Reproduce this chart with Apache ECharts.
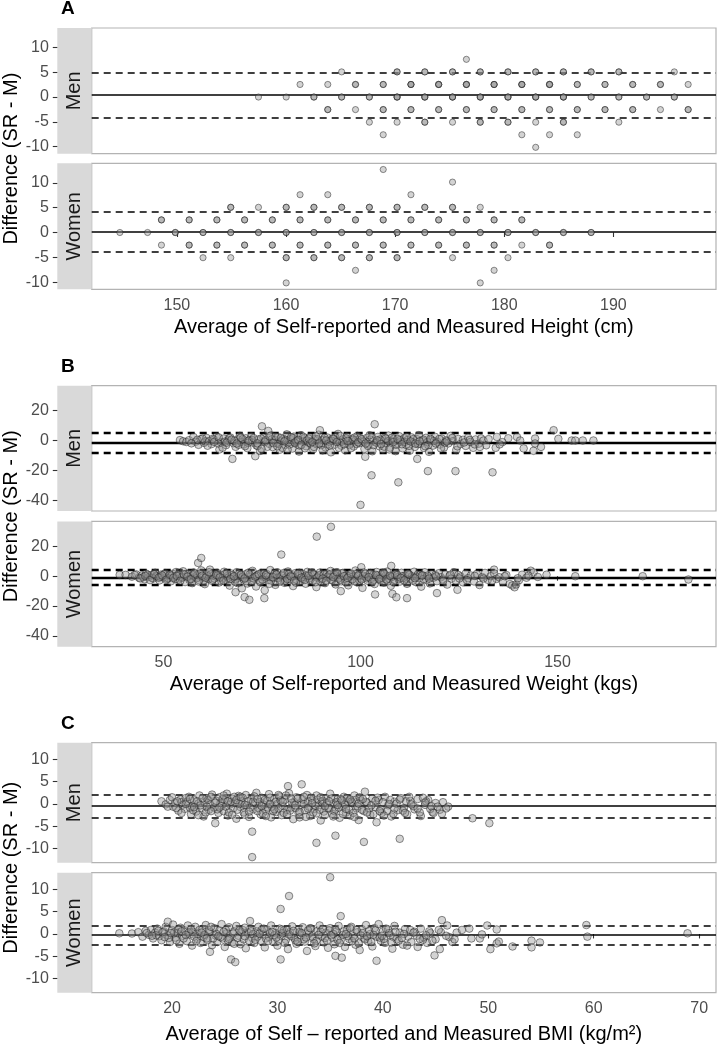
<!DOCTYPE html>
<html>
<head>
<meta charset="utf-8">
<script src="https://cdn.jsdelivr.net/npm/echarts@6/dist/echarts.min.js"></script>
<style>
html,body{margin:0;padding:0;background:#fff;}
#chart{width:717px;height:1049px;}
</style>
</head>
<body>
<div id="chart"></div>
<script>
// ---------------- DATA ----------------
// Panel A: height (cm). [average, difference, overlapping count]
const heightMenPts = [
 [176.53,7.62,1],
 [165.10,5.08,1],[170.18,5.08,2],[172.72,5.08,2],[175.26,5.08,2],[177.80,5.08,2],[180.34,5.08,2],[182.88,5.08,2],[185.42,5.08,2],[187.96,5.08,2],[190.50,5.08,2],[195.58,5.08,1],
 [161.29,2.54,1],[163.83,2.54,1],[166.37,2.54,2],[168.91,2.54,2],[171.45,2.54,3],[173.99,2.54,3],[176.53,2.54,3],[179.07,2.54,3],[181.61,2.54,3],[184.15,2.54,3],[186.69,2.54,2],[189.23,2.54,2],[191.77,2.54,2],[194.31,2.54,2],[196.85,2.54,1],
 [157.48,0,1],[160.02,0,1],[162.56,0,2],[165.10,0,2],[167.64,0,2],[170.18,0,3],[172.72,0,3],[175.26,0,3],[177.80,0,3],[180.34,0,3],[182.88,0,3],[185.42,0,3],[187.96,0,2],[190.50,0,2],[193.04,0,2],[195.58,0,2],
 [163.83,-2.54,2],[166.37,-2.54,1],[168.91,-2.54,2],[171.45,-2.54,2],[173.99,-2.54,2],[176.53,-2.54,2],[179.07,-2.54,2],[181.61,-2.54,2],[184.15,-2.54,2],[186.69,-2.54,2],[189.23,-2.54,2],[191.77,-2.54,2],[194.31,-2.54,1],[196.85,-2.54,2],
 [167.64,-5.08,1],[170.18,-5.08,1],[172.72,-5.08,2],[175.26,-5.08,1],[177.80,-5.08,2],[180.34,-5.08,2],[182.88,-5.08,1],[185.42,-5.08,2],[190.50,-5.08,1],
 [168.91,-7.62,1],[181.61,-7.62,1],[184.15,-7.62,1],[186.69,-7.62,1],
 [182.88,-10.16,1]
];
const heightWomenPts = [
 [168.91,12.70,1],
 [175.26,10.16,1],
 [161.29,7.62,1],[163.83,7.62,1],[171.45,7.62,1],
 [154.94,5.08,2],[157.48,5.08,1],[160.02,5.08,2],[162.56,5.08,2],[165.10,5.08,2],[167.64,5.08,2],[170.18,5.08,2],[172.72,5.08,2],[175.26,5.08,2],[177.80,5.08,1],
 [148.59,2.54,2],[151.13,2.54,2],[153.67,2.54,2],[156.21,2.54,2],[158.75,2.54,2],[161.29,2.54,2],[163.83,2.54,2],[166.37,2.54,2],[168.91,2.54,2],[171.45,2.54,2],[173.99,2.54,2],[176.53,2.54,2],[179.07,2.54,2],[181.61,2.54,2],
 [144.78,0,1],[147.32,0,1],[149.86,0,2],[152.40,0,2],[154.94,0,2],[157.48,0,2],[160.02,0,2],[162.56,0,2],[165.10,0,2],[167.64,0,2],[170.18,0,2],[172.72,0,2],[175.26,0,2],[177.80,0,2],[180.34,0,2],[182.88,0,2],[185.42,0,2],[187.96,0,2],
 [148.59,-2.54,1],[151.13,-2.54,2],[153.67,-2.54,2],[156.21,-2.54,2],[158.75,-2.54,2],[161.29,-2.54,2],[163.83,-2.54,2],[166.37,-2.54,2],[168.91,-2.54,2],[171.45,-2.54,2],[173.99,-2.54,2],[176.53,-2.54,2],[179.07,-2.54,2],[181.61,-2.54,1],[184.15,-2.54,2],
 [152.40,-5.08,1],[154.94,-5.08,1],[160.02,-5.08,2],[162.56,-5.08,2],[165.10,-5.08,2],[167.64,-5.08,2],[170.18,-5.08,2],[175.26,-5.08,1],[180.34,-5.08,1],
 [166.37,-7.62,1],[179.07,-7.62,1],
 [160.02,-10.16,1],[177.80,-10.16,1]
];

// Panel B: weight (kg). [average, difference]
const weightMenPts = [
 [54.2,0.3],[55.0,-0.5],[55.8,-1.0],[56.5,0.2],[57.6,2.4],[58.2,-0.8],[58.9,-2.9],[59.5,0.9],[60.3,-1.6],[60.9,1.8],[61.6,-0.3],[62.2,-2.4],[62.8,0.6],[63.5,2.6],[64.2,-6.0],[64.6,-1.2],[65.3,1.3],[65.9,-3.1],[66.4,0.1],[67.0,2.0],[67.5,-12.3],[67.8,-1.8],[68.3,-4.2],[68.9,0.8],[69.4,3.1],[69.8,-0.9],[70.4,-2.6],[70.9,1.5],[71.3,-5.1],[71.8,0.2],[72.3,2.8],[72.7,-1.4],[73.3,-10.5],[73.6,-3.3],[74.1,0.7],[74.5,-7.0],[75.0,9.5],[75.4,1.9],[75.9,-0.6],[76.6,6.4],[76.8,-2.2],[77.3,3.4],[77.7,-4.4],[78.2,0.4],[78.6,-1.5],[79.1,2.3],[79.5,-6.2],[80.0,-0.2],[80.4,1.1],[80.9,-3.0],[81.3,4.1],[81.8,-1.1],[82.2,0.9],[82.7,-5.4],[83.1,2.6],[83.5,-2.0],[84.0,0.1],[84.4,-7.4],[84.9,3.6],[85.3,-0.7],[85.8,1.6],[86.2,-3.8],[86.7,-1.3],[87.1,2.2],[87.6,-0.4],[88.0,-5.9],[88.5,1.0],[88.9,-2.5],[89.4,3.9],[89.7,6.9],[90.2,-1.7],[90.7,0.5],[91.1,-4.6],[91.6,2.0],[92.0,-0.9],[92.5,-7.9],[92.9,1.4],[93.4,-2.8],[93.8,0.2],[94.3,4.4],[94.7,-1.2],[95.2,-3.5],[95.6,0.8],[96.1,-6.5],[96.5,2.7],[97.0,-0.5],[97.4,-2.1],[97.9,1.2],[98.3,-4.0],[98.8,0.3],[99.2,3.0],[99.7,-1.8],[100.0,-43.1],[100.5,-0.2],[101.0,-5.6],[101.2,-10.9],[101.6,1.7],[102.1,-2.6],[102.5,0.6],[102.8,-23.3],[103.0,-7.2],[103.6,10.9],[103.9,-1.0],[104.4,2.4],[104.8,-3.9],[105.3,0.0],[105.7,-6.1],[106.2,1.9],[106.6,-1.6],[107.1,3.3],[107.5,-4.8],[108.0,-0.3],[108.4,1.0],[108.9,-7.1],[109.3,-2.0],[109.6,-28.0],[109.8,2.9],[110.2,-0.8],[110.7,-5.2],[111.1,1.5],[111.6,-3.0],[112.0,0.4],[112.5,-6.8],[112.9,2.1],[113.4,-1.4],[113.8,-4.3],[114.3,0.9],[114.4,-12.3],[114.8,3.6],[115.2,-2.2],[115.7,-0.1],[116.1,-5.0],[116.6,1.8],[117.0,-1.1],[117.1,-20.5],[117.4,-7.6],[117.9,0.6],[118.4,-3.4],[118.9,2.5],[119.5,-0.9],[120.1,-2.7],[120.6,1.3],[121.2,-4.7],[121.8,0.2],[122.3,-1.9],[122.9,3.1],[123.5,-0.4],[124.1,-20.5],[124.3,-6.4],[124.8,1.0],[125.4,-2.3],[126.0,0.5],[126.7,-3.6],[127.3,1.9],[127.9,-1.0],[128.6,-4.9],[129.2,0.7],[130.0,-2.1],[130.6,1.4],[131.2,0.0],[131.9,-3.2],[133.5,-21.3],[134.3,-4.9],[134.6,2.4],[136.0,-1.1],[139.7,2.4],[140.5,0.0],[141.4,-5.3],[143.9,-6.9],[144.3,1.3],[144.3,-2.0],[145.8,-4.3],[149.0,6.9],[150.2,1.1],[153.6,0.0],[154.5,0.0],[156.4,0.0],[159.1,0.0],
 [58.6,0.5],[60.6,-0.6],[62.5,1.1],[63.9,-2.0],[65.6,-0.8],[66.7,1.6],[68.0,-0.2],[69.1,-2.9],[70.1,0.9],[71.5,-1.5],[72.5,0.3],[73.9,-3.7],[74.8,1.3],[75.7,-1.0],[76.4,-4.2],[77.5,0.8],[78.4,2.6],[79.3,-2.4],[80.2,-4.9],[81.0,0.4],[82.0,-2.7],[82.9,1.7],[83.7,-0.5],[84.6,-3.4],[85.5,2.5],[86.4,0.0],[87.3,-1.9],[88.2,-4.3],[89.1,0.8],[90.0,-3.1],[90.9,1.8],[91.8,-2.4],[92.7,-0.2],[93.6,2.2],[94.5,-4.9],[95.4,-0.7],[96.3,1.4],[97.2,-3.0],[98.1,0.5],[99.0,-2.3],[99.9,1.6],[100.8,-0.8],[101.9,-3.6],[102.9,2.0],[104.0,-1.5],[105.0,0.7],[106.0,-4.1],[107.0,-0.4],[108.0,1.9],[109.0,-2.8],[110.0,0.3],[111.2,-1.0],[112.3,-3.6],[113.4,0.9],[114.6,-2.4],[115.9,0.6],[117.2,-3.1],[118.6,-0.3],[120.0,1.0],[121.4,-1.4],
 [57.1,-1.9],[59.9,1.3],[61.2,-3.5],[62.9,-0.9],[64.0,2.1],[65.0,-4.8],[66.0,-1.5],[67.3,0.5],[68.6,-2.0],[69.6,1.9],[70.7,-3.8],[71.6,-0.1],[72.9,1.6],[73.8,-1.9],[74.9,-5.6],[75.9,0.2],[76.9,2.9],[77.9,-1.8],[78.9,-3.9],[79.8,1.7],[80.7,-0.6],[81.5,-6.1],[82.4,2.2],[83.3,-1.4],[84.2,0.5],[85.0,-2.9],[85.9,-5.2],[86.9,1.3],[87.8,-0.9],[88.7,2.8],[89.5,-2.0],[90.4,-6.6],[91.3,0.0],[92.2,-3.4],[93.1,1.1],[94.0,-1.0],[94.9,3.0],[95.8,-2.5],[96.7,-0.2],[97.6,-5.1],[98.5,2.0],[99.4,-1.2],[100.3,0.9],[101.3,-2.0],[102.3,3.5],[103.3,-3.1],[104.2,0.1],[105.2,-2.4],[106.4,1.3],[107.3,-6.0],[108.3,-1.1],[109.4,1.0],[110.5,-2.5],[111.7,2.5],[112.7,-0.6],[113.9,-2.1],[115.0,-0.5],[116.4,-3.8],[117.7,1.2],[119.1,-2.0],[120.4,-5.3],[121.9,-0.6],[123.3,1.7],[124.6,-3.9],[126.3,-1.3],[127.7,0.3],[129.0,-2.6],[130.3,-4.3],[132.5,0.9],[135.3,-2.6],[137.5,1.5]
];
const weightWomenPts = [
 [38.9,0.9],[40.4,0.9],[42.0,-0.3],[43.1,1.2],[43.8,-1.0],[44.5,0.4],[45.2,-2.1],[45.6,1.7],[46.3,-0.5],[46.9,0.8],[47.4,-1.6],[47.9,2.3],[48.5,-0.2],[49.0,-2.8],[49.4,1.1],[50.0,-0.9],[50.5,2.0],[51.0,-1.9],[51.4,0.3],[51.9,-3.4],[52.3,1.6],[52.8,-0.6],[53.2,2.8],[53.7,-2.3],[54.1,0.7],[54.6,-1.2],[55.0,3.3],[55.5,-3.9],[55.9,0.1],[56.4,1.9],[56.8,-1.5],[57.3,-4.6],[57.7,2.5],[58.2,-0.4],[58.6,1.0],[58.8,8.9],[59.1,-2.7],[59.6,12.2],[59.6,3.9],[60.0,-0.8],[60.5,-5.3],[60.9,1.4],[61.4,-1.8],[61.8,4.4],[62.3,-3.1],[62.7,0.5],[63.2,-0.1],[63.6,2.2],[64.1,-4.2],[64.5,0.9],[65.0,-1.4],[65.4,3.0],[65.9,-2.5],[66.3,0.2],[66.8,-6.3],[67.2,1.8],[67.7,-0.7],[68.1,-3.6],[68.3,-10.7],[68.6,2.7],[69.0,-1.1],[69.5,0.6],[69.9,-8.1],[70.4,-2.2],[70.6,-14.0],[70.8,1.3],[71.3,-4.9],[71.8,-15.8],[72.1,0.0],[72.6,3.6],[73.0,-1.7],[73.5,-6.9],[73.9,0.8],[74.4,-3.0],[74.8,2.1],[75.3,-0.5],[75.6,-14.7],[75.7,-9.4],[76.2,1.5],[76.6,-2.6],[77.1,4.1],[77.5,-1.0],[78.0,0.4],[78.4,-5.8],[78.9,2.6],[79.3,-0.3],[79.9,14.5],[79.8,-2.9],[80.2,1.0],[80.7,-4.4],[81.1,-0.9],[81.6,3.2],[82.0,-1.8],[82.5,0.7],[82.9,-6.6],[83.4,2.0],[83.8,-2.4],[84.3,0.1],[84.7,-3.7],[85.2,1.7],[85.6,-0.6],[86.1,-5.0],[86.5,2.9],[87.0,-1.4],[87.4,0.5],[87.9,-3.2],[88.3,1.2],[88.9,26.5],[88.8,-7.3],[89.2,-0.2],[89.7,2.4],[90.1,-2.0],[90.6,0.9],[91.0,-4.6],[91.5,1.9],[91.9,-1.1],[92.4,3.5],[92.5,33.1],[92.8,-2.8],[93.3,0.3],[93.7,-5.5],[94.2,1.6],[94.6,-0.8],[95.0,-10.0],[95.1,-3.4],[95.5,2.2],[96.0,-1.6],[96.4,0.6],[96.9,-6.1],[97.3,1.3],[97.8,-2.3],[98.2,0.0],[98.7,3.8],[99.1,-4.0],[99.6,1.0],[100.0,-1.3],[100.2,6.0],[100.5,-7.8],[100.9,2.5],[101.4,-0.4],[101.8,-3.0],[102.3,1.4],[102.7,-1.9],[103.2,0.8],[103.7,-12.2],[103.6,-5.2],[104.1,2.8],[104.5,-0.9],[105.0,-2.7],[105.4,1.1],[105.9,-4.3],[106.3,0.2],[106.8,3.1],[107.2,-1.5],[107.8,6.9],[107.7,-6.4],[108.1,-11.8],[108.2,0.7],[108.6,-2.4],[109.1,-14.1],[109.1,1.9],[109.5,-0.6],[110.0,-3.6],[110.4,2.3],[110.9,-1.2],[111.3,0.4],[111.8,-14.7],[111.8,-5.1],[112.2,1.5],[112.7,-2.0],[113.1,0.0],[113.6,3.0],[114.0,-3.9],[114.5,1.0],[114.9,-1.4],[115.4,-7.0],[115.8,0.6],[116.3,2.6],[116.7,-2.6],[117.2,-0.3],[117.6,-4.8],[118.1,1.4],[118.5,-1.0],[119.0,0.8],[119.4,-11.3],[119.4,-3.3],[119.9,2.0],[120.4,-0.7],[120.9,-2.2],[121.5,1.2],[122.0,-5.6],[122.6,0.3],[123.1,-1.6],[123.7,2.7],[124.2,-3.0],[124.6,-9.1],[124.8,0.9],[125.4,-0.2],[126.0,-4.1],[126.7,1.8],[127.3,-1.3],[128.0,0.5],[128.8,-3.5],[129.5,1.5],[130.2,-5.9],[130.9,-0.6],[131.6,2.2],[132.3,-2.4],[133.0,0.0],[133.9,4.4],[133.9,1.9],[134.5,-1.8],[135.2,-0.7],[136.1,-3.8],[137.0,0.8],[137.9,-5.2],[138.5,-6.2],[139.1,-7.4],[139.5,-5.5],[140.2,-2.7],[141.0,1.0],[142.1,-1.0],[143.2,3.7],[143.9,2.5],[145.0,-0.5],[147.2,1.0],[154.5,0.0],[171.6,0.0],[183.2,-2.2],
 [44.9,-0.6],[46.0,0.9],[47.1,-1.1],[48.2,0.2],[49.2,-0.4],[50.2,1.3],[51.2,-1.3],[52.1,0.4],[53.0,-2.0],[53.9,1.0],[54.8,-0.7],[55.7,1.5],[56.6,-2.4],[57.5,0.6],[58.4,-1.3],[59.3,1.7],[60.2,-2.9],[61.1,0.0],[62.0,1.2],[62.9,-1.5],[63.8,0.4],[64.7,-3.3],[65.6,1.4],[66.5,-0.9],[67.4,0.7],[68.3,-2.1],[69.2,1.7],[70.1,-0.4],[71.0,-3.3],[71.9,1.1],[72.8,-1.3],[73.7,0.3],[74.6,-4.1],[75.5,2.0],[76.4,-0.2],[77.3,-2.9],[78.2,1.8],[79.1,-1.2],[80.0,0.3],[80.9,-3.0],[81.8,1.4],[82.7,-0.4],[83.6,-4.3],[84.5,2.3],[85.4,-1.9],[86.3,0.6],[87.2,-2.5],[88.1,1.0],[89.0,-0.9],[89.9,-3.8],[90.8,1.5],[91.7,-0.3],[92.6,-2.3],[93.5,0.8],[94.4,-1.6],[95.3,1.9],[96.2,-4.0],[97.1,-0.1],[98.0,-2.0],[98.9,1.5],[99.8,-3.0],[100.7,0.3],[101.6,-1.4],[102.5,2.1],[103.4,-2.4],[104.3,0.5],[105.2,-1.1],[106.1,1.6],[107.0,-3.4],[107.9,-0.6],[108.8,1.2],[109.7,-2.0],[110.6,0.0],[111.5,-1.7],[112.4,1.0],[113.3,-3.0],[114.2,-0.3],[115.1,0.9],[116.0,-1.9],[117.0,0.4],
 [42.7,0.8],[44.1,-1.5],[45.4,0.2],[46.6,-2.6],[47.6,1.3],[48.8,-1.0],[49.7,0.5],[50.7,-2.4],[51.6,1.0],[52.5,-1.1],[53.4,0.2],[54.3,-3.0],[55.2,1.2],[56.1,-0.3],[57.0,-2.0],[57.9,1.8],[58.9,-3.5],[59.8,0.3],[60.7,-1.0],[61.6,2.6],[62.5,-2.3],[63.4,0.9],[64.3,-0.8],[65.2,-2.9],[66.1,1.9],[67.0,-1.7],[67.9,0.0],[68.8,-4.6],[69.7,1.0],[70.6,-1.4],[71.5,2.3],[72.4,-3.5],[73.3,-0.3],[74.2,1.3],[75.1,-2.2],[76.0,0.7],[76.9,-5.1],[77.8,-0.6],[78.7,1.1],[79.6,-3.6],[80.5,2.1],[81.4,-1.9],[82.3,-0.1],[83.2,-3.1],[84.1,1.7],[85.0,-0.9],[85.9,-2.5],[86.8,0.3],[87.7,2.6],[88.6,-4.0],[89.5,0.6],[90.4,-1.6],[91.3,-3.0],[92.2,1.2],[93.1,-0.5],[94.0,2.7],[94.9,-2.4],[95.8,0.0],[96.7,-1.1],[97.6,1.7],[98.5,-3.4],[99.4,0.4],[100.3,-2.1],[101.2,1.6],[102.1,-0.6],[103.0,-3.8],[103.9,0.9],[104.8,-1.8],[105.7,2.5],[106.6,-2.2],[107.5,0.3],[108.4,-4.0],[109.3,0.8],[110.2,-1.1],[111.1,-2.8],[112.0,1.8],[113.8,-1.3],[115.6,0.5],[117.4,-1.6],[119.2,-0.1],[121.0,-3.1],[122.8,1.0],[125.1,-1.5],[127.0,-2.6],[129.0,0.2],[131.2,-1.5],[133.4,-3.0],[136.6,0.0],[139.9,-1.4],[142.6,0.4]
];

// Panel C: BMI (kg/m2). [average, difference]
const bmiMenPts = [
 [19.0,0.6],[19.4,-0.1],[19.8,0.9],[20.1,-0.6],[20.3,0.3],[20.6,-1.5],[20.8,1.0],[21.0,-0.2],[21.2,-1.1],[21.4,0.5],[21.6,1.6],[21.8,-2.3],[21.9,-0.5],[22.1,0.8],[22.3,-1.7],[22.5,0.1],[22.6,1.9],[22.8,-0.9],[23.0,-2.8],[23.1,0.4],[23.3,1.3],[23.5,-1.3],[23.6,-0.2],[23.8,2.1],[24.0,-0.8],[24.1,-4.3],[24.2,0.7],[24.4,-2.0],[24.5,1.5],[24.7,-0.4],[24.9,-1.6],[25.0,0.9],[25.2,2.3],[25.3,-2.6],[25.5,-0.1],[25.7,1.2],[25.8,-1.0],[26.0,0.3],[26.1,-3.3],[26.3,1.8],[26.5,-0.7],[26.6,0.6],[26.8,-1.9],[27.0,2.0],[27.1,-0.3],[27.3,-2.9],[27.5,1.0],[27.6,-6.2],[27.6,-11.9],[27.7,-1.2],[27.9,0.2],[28.0,2.5],[28.2,-0.9],[28.4,-2.3],[28.5,1.4],[28.7,-0.2],[28.9,-1.5],[29.0,0.7],[29.2,2.2],[29.4,-3.0],[29.5,-0.6],[29.7,1.1],[29.9,-1.8],[30.0,0.0],[30.2,1.7],[30.4,-2.5],[30.5,-0.4],[30.7,0.9],[30.9,-1.3],[31.0,4.0],[31.1,2.4],[31.3,-0.8],[31.5,-3.4],[31.6,0.4],[31.8,1.5],[32.0,-2.0],[32.2,-0.2],[32.3,4.4],[32.4,1.0],[32.6,-1.4],[32.8,2.0],[33.0,-0.6],[33.1,-2.7],[33.3,0.8],[33.5,-1.1],[33.7,-8.7],[33.7,1.9],[33.9,-0.3],[34.1,-3.7],[34.2,0.5],[34.4,-1.7],[34.6,1.3],[34.8,-0.9],[35.0,2.3],[35.2,-2.2],[35.3,0.1],[35.5,-7.1],[35.5,-1.2],[35.7,1.0],[35.9,-3.1],[36.1,-0.4],[36.3,1.6],[36.5,-1.9],[36.7,0.6],[36.9,-2.6],[37.1,0.2],[37.3,1.9],[37.5,-1.0],[37.7,-3.6],[37.9,0.8],[38.2,-8.5],[38.3,2.75],[38.2,-1.6],[38.5,0.3],[38.8,-2.4],[39.0,1.2],[39.4,-4.1],[39.3,-0.7],[39.6,0.9],[39.9,-2.0],[40.2,1.6],[40.5,-0.3],[40.8,-2.8],[41.1,0.5],[41.4,-1.4],[41.6,-7.8],[41.7,1.3],[42.0,-0.9],[42.3,-2.3],[42.6,0.7],[43.0,-1.2],[43.3,1.1],[43.6,-2.7],[44.0,-0.2],[44.3,0.9],[44.7,-1.8],[45.0,0.2],[45.4,-1.3],[45.7,0.4],[46.2,-0.6],[48.5,-3.2],[50.1,-4.3],
 [20.4,-0.9],[20.9,0.4],[21.3,1.3],[21.7,-0.8],[22.0,-1.4],[22.4,0.6],[22.7,-0.3],[23.2,-1.9],[23.4,0.9],[23.7,1.6],[24.3,-1.2],[24.6,0.2],[24.8,1.1],[25.1,-0.6],[25.4,-1.9],[25.6,0.5],[25.9,1.6],[26.2,-1.3],[26.4,0.0],[26.7,1.4],[26.9,-2.4],[27.2,0.6],[27.4,-0.8],[27.8,1.7],[28.1,-1.6],[28.3,0.4],[28.6,-2.1],[28.8,0.9],[29.1,-0.8],[29.3,1.4],[29.6,-1.6],[29.8,0.4],[30.1,-1.0],[30.3,0.8],[30.6,-2.0],[30.8,1.9],[31.2,-1.5],[31.4,0.3],[31.7,-0.9],[31.9,1.2],[32.1,-1.8],[32.5,0.0],[32.7,-2.9],[32.9,0.6],[33.2,1.4],[33.4,-1.9],[33.6,-0.4],[33.8,1.0],[34.0,-1.3],[34.3,0.7],[34.5,-2.5],[34.7,0.2],[34.9,-1.0],[35.1,1.2],[35.4,-1.6],[35.6,0.4],[35.8,-0.8],[36.0,1.1],[36.2,-2.2],[36.4,-0.1],[36.6,1.3],[36.8,-1.3],[37.0,0.5],[37.2,-2.0],[37.4,0.9],[37.6,-0.5],[37.8,1.5],[38.0,-1.3],[38.4,0.5],[38.7,-1.0],[39.1,-2.3],[39.5,1.4],[39.8,-1.2],[40.0,0.4],[40.4,-1.6],[40.7,0.9],[41.0,-2.2],[41.3,0.1],[41.9,-1.5],[42.2,0.6],[42.9,-0.5],[43.5,-1.9],[44.1,0.6],[44.5,-1.1],[45.2,-0.6],[46.0,-1.0],[45.6,-2.2],[44.8,-2.0],[43.8,1.4],[42.5,1.6],
 [19.6,-0.6],[20.0,1.5],[20.5,0.6],[20.9,-2.0],[21.3,0.0],[21.7,1.1],[22.1,-0.7],[22.5,-2.5],[22.9,1.3],[23.3,-0.6],[23.7,-1.6],[24.1,0.3],[24.5,-0.8],[24.9,1.9],[25.3,0.6],[25.7,-2.4],[26.1,0.9],[26.5,1.6],[26.9,-0.2],[27.3,-1.7],[27.7,0.5],[28.1,1.1],[28.5,-0.5],[28.9,-2.7],[29.3,0.0],[29.7,-1.2],[30.1,2.0],[30.5,0.5],[30.9,-2.3],[31.3,1.2],[31.7,-0.3],[32.1,-3.0],[32.5,1.6],[32.9,-1.0],[33.3,0.2],[33.7,-2.1],[34.1,1.5],[34.5,-0.5],[34.9,0.6],[35.3,-2.8],[35.7,-0.2],[36.1,0.8],[36.5,-1.1],[36.9,1.0],[37.3,-2.9],[37.7,0.1],[38.1,1.1],[38.5,-1.9],[38.9,-0.3],[39.3,0.7],[39.7,-1.6],[40.1,-2.6],[40.6,0.0],[41.1,-1.0],[41.6,1.0],[42.1,-2.0],[42.7,-0.1],[43.3,-1.0],[44.0,0.3],[44.6,-0.5]
];
const bmiWomenPts = [
 [15.0,0.15],[16.2,0.1],[16.8,0.4],[17.2,-0.6],[17.5,0.7],[17.8,-0.2],[18.0,0.9],[18.2,-1.0],[18.4,0.3],[18.6,1.2],[18.8,-0.5],[19.0,-1.4],[19.2,0.6],[19.4,1.6],[19.6,2.75],[19.6,-0.3],[19.8,-1.8],[20.0,0.9],[20.1,2.1],[20.3,-0.8],[20.5,0.2],[20.7,-2.2],[20.8,1.4],[21.0,-0.4],[21.2,0.8],[21.4,-1.6],[21.5,1.9],[21.7,-0.1],[21.9,-2.6],[22.0,0.5],[22.2,1.6],[22.4,-1.1],[22.5,0.0],[22.7,-2.0],[22.9,1.0],[23.0,-0.7],[23.2,2.0],[23.4,-1.4],[23.6,-4.0],[23.6,0.4],[23.8,-2.5],[24.0,1.3],[24.1,-0.3],[24.3,-1.8],[24.5,0.8],[24.7,2.2],[24.8,-1.0],[25.0,-2.9],[25.2,0.2],[25.4,1.5],[25.6,-5.7],[25.5,-0.8],[25.7,-1.9],[25.9,0.6],[26.0,-6.3],[26.1,1.8],[26.3,-0.4],[26.5,-2.3],[26.7,0.9],[26.8,-1.2],[27.0,-3.2],[27.2,0.3],[27.4,2.9],[27.4,1.1],[27.6,-0.9],[27.8,-2.0],[28.0,0.6],[28.2,1.6],[28.4,-1.5],[28.6,-0.1],[28.8,-3.0],[29.0,1.0],[29.2,-0.7],[29.4,1.9],[29.6,-1.8],[29.8,0.2],[30.0,-2.6],[30.2,1.2],[30.3,5.6],[30.3,-5.7],[30.4,-0.5],[30.6,0.8],[30.8,-1.3],[31.0,-3.4],[31.1,8.5],[31.2,0.4],[31.4,1.7],[31.6,-0.9],[31.8,-2.2],[32.0,0.9],[32.2,-0.3],[32.4,1.5],[32.6,-1.7],[32.8,-3.8],[33.0,0.1],[33.2,1.2],[33.4,-1.1],[33.6,-2.7],[33.8,0.7],[34.0,1.9],[34.2,-0.6],[34.4,-1.9],[34.6,0.3],[34.8,-3.1],[35.0,12.7],[35.0,1.3],[35.2,-0.8],[35.4,-2.3],[35.5,-4.9],[35.6,0.6],[35.8,1.8],[36.0,4.0],[36.0,-1.4],[36.1,-5.3],[36.2,-0.2],[36.4,-2.9],[36.6,0.9],[36.8,-1.1],[37.0,1.6],[37.2,-0.5],[37.4,-2.4],[37.6,0.4],[37.8,-3.6],[38.0,1.1],[38.2,-0.9],[38.4,2.0],[38.6,-1.7],[38.8,0.0],[39.0,-2.8],[39.2,1.3],[39.4,-6.0],[39.4,-0.6],[39.6,2.2],[39.8,-1.5],[40.0,0.6],[40.2,-2.0],[40.5,1.0],[40.7,-0.3],[40.9,-3.3],[41.1,1.8],[41.3,-1.2],[41.6,0.3],[41.9,-2.4],[42.1,1.1],[42.4,-0.6],[42.7,-1.8],[43.0,0.5],[43.3,-2.9],[43.6,1.2],[43.9,-0.8],[44.2,-2.0],[44.5,0.2],[44.9,-4.8],[45.0,-1.2],[45.4,-3.4],[45.6,3.1],[45.5,0.4],[46.1,1.9],[46.3,-0.7],[46.6,-1.8],[47.0,0.3],[47.5,0.9],[48.2,1.2],[48.4,-1.0],[49.2,-1.0],[49.4,-0.1],[49.9,1.9],[50.2,-3.4],[50.8,1.0],[50.8,-2.1],[51.0,-1.7],[52.3,-2.8],[54.1,-1.5],[54.1,-3.0],[54.9,-1.9],[59.3,2.0],[59.4,-0.6],[68.9,0.15],
 [18.5,-0.3],[19.1,0.4],[19.7,-0.9],[20.2,0.3],[20.6,1.0],[21.1,-1.0],[21.6,0.3],[22.1,-0.6],[22.6,0.9],[23.1,-0.2],[23.5,0.9],[23.9,-1.0],[24.2,0.0],[24.6,-0.7],[25.1,0.9],[25.3,-1.4],[25.8,0.1],[26.2,-0.9],[26.6,0.4],[26.9,1.4],[27.3,-1.5],[27.7,0.0],[28.1,-0.6],[28.5,0.9],[28.9,-1.0],[29.3,0.2],[29.7,-0.3],[30.1,-1.5],[30.5,0.2],[30.9,0.9],[31.3,-0.5],[31.7,-1.4],[32.1,0.4],[32.5,-1.2],[32.9,0.8],[33.3,-0.6],[33.7,-1.5],[34.1,0.5],[34.5,-0.9],[34.9,0.8],[35.3,0.0],[35.7,-1.3],[36.3,0.6],[36.7,-0.5],[37.1,-1.6],[37.5,0.9],[37.9,-0.3],[38.3,-1.2],[38.7,0.7],[39.1,-0.2],[39.7,-0.8],[40.1,-1.1],[40.6,0.2],[41.0,-0.7],[41.5,-1.5],[42.0,0.0],[42.6,0.9],[43.2,-0.4],[43.8,-1.3],[44.4,0.6],
 [17.6,0.2],[18.1,-0.4],[18.7,0.7],[19.3,-0.7],[19.9,0.2],[20.4,-1.4],[20.9,0.6],[21.3,-0.2],[21.8,1.0],[22.3,-1.6],[22.8,0.3],[23.3,-1.0],[23.7,1.6],[24.4,-0.5],[24.9,0.5],[25.4,-1.1],[25.9,-2.2],[26.4,0.8],[26.9,-0.5],[27.5,0.6],[27.9,-1.3],[28.3,0.1],[28.7,1.2],[29.1,-1.6],[29.5,0.5],[29.9,-0.8],[30.4,1.0],[30.7,-2.0],[31.1,-0.1],[31.5,0.7],[31.9,-1.7],[32.3,0.2],[32.7,-0.8],[33.1,1.3],[33.5,-2.1],[33.9,-0.2],[34.3,1.1],[34.7,-1.5],[35.1,-0.3],[35.5,0.9],[35.9,-2.0],[36.5,0.0],[36.9,1.3],[37.3,-1.0],[37.7,-2.1],[38.1,0.2],[38.5,-0.5],[38.9,-1.8],[39.3,0.8],[39.9,-0.4],[40.3,1.2],[40.8,-1.9],[41.2,0.5],[41.8,-0.9],[42.3,-2.6],[42.9,0.3],[43.5,-1.1],[44.1,-0.3],[44.7,-1.5],[45.3,0.9],[46.0,-0.4],[46.8,-1.2]
];

// Mean difference and limits of agreement: [mean, upper, lower]
const heightMenLines = [0.4, 4.95, -4.1];
const heightWomenLines = [0.17, 4.18, -3.84];
const weightMenLines = [-1.5, 5.2, -8.2];
const weightWomenLines = [-0.85, 4.0, -5.6];
const bmiMenLines = [-0.5, 2.15, -3.1];
const bmiWomenLines = [-0.25, 1.95, -2.46];

// Tick labels
const heightTicksX = [150, 160, 170, 180, 190];
const weightTicksX = [50, 100, 150];
const bmiTicksX = [20, 30, 40, 50, 60, 70];
const heightTicksY = [-10, -5, 0, 5, 10];
const weightTicksY = [-40, -20, 0, 20];
const bmiTicksY = [-10, -5, 0, 5, 10];

const facetNames = ['Men', 'Women'];
const panelLetters = ['A', 'B', 'C'];
const xTitles = [
  'Average of Self-reported and Measured Height (cm)',
  'Average of Self-reported and Measured Weight (kgs)',
  'Average of Self \u2013 reported and Measured BMI (kg/m\u00B2)'
];
const yTitle = 'Difference (SR - M)';

// ---------------- LAYOUT ----------------
const FONT = '"Liberation Sans", Arial, Helvetica, sans-serif';
const PLOT_LEFT = 91.7, PLOT_W = 624.3, STRIP_W = 34.4;
const grids = [
  {top: 28, height: 125.7},
  {top: 163.3, height: 126},
  {top: 385.7, height: 125.3},
  {top: 521.4, height: 125.3},
  {top: 742.7, height: 120},
  {top: 872.7, height: 120}
];
const panels = [
  {xr: [142.2, 199.4], yr: [-11.45, 13.95], tx: heightTicksX, ty: heightTicksY, pts: [heightMenPts, heightWomenPts], lines: [heightMenLines, heightWomenLines], size: 6.2, lw: 1.7, nameGap: 28},
  {xr: [31.8, 190.2], yr: [-47.2, 36.7], tx: weightTicksX, ty: weightTicksY, pts: [weightMenPts, weightWomenPts], lines: [weightMenLines, weightWomenLines], size: 7.6, lw: 2.3, nameGap: 28},
  {xr: [12.38, 71.6], yr: [-13.15, 13.72], tx: bmiTicksX, ty: bmiTicksY, pts: [bmiMenPts, bmiWomenPts], lines: [bmiMenLines, bmiWomenLines], size: 7.6, lw: 1.7, nameGap: 32}
];

function expand(pts) {
  const out = [];
  pts.forEach(p => { const n = p[2] || 1; for (let i = 0; i < n; i++) out.push([p[0], p[1]]); });
  return out;
}

const optGrid = [], optX = [], optY = [], optSeries = [], graphics = [];
panels.forEach((P, pi) => {
  for (let f = 0; f < 2; f++) {
    const gi = pi * 2 + f;
    const g = grids[gi];
    const bottom = f === 1;
    optGrid.push({left: PLOT_LEFT, top: g.top, width: PLOT_W, height: g.height, show: true,
      borderColor: '#b3b3b3', borderWidth: 1.2, backgroundColor: '#ffffff'});
    optX.push({gridIndex: gi, type: 'value', min: P.xr[0], max: P.xr[1],
      axisLine: {show: false}, splitLine: {show: false},
      axisTick: {show: bottom, length: 4.5, lineStyle: {color: '#333333', width: 1.1}, customValues: P.tx},
      axisLabel: {show: bottom, customValues: P.tx, color: '#4d4d4d', fontSize: 16, fontFamily: FONT, margin: 8},
      name: bottom ? xTitles[pi] : '', nameLocation: 'middle', nameGap: P.nameGap,
      nameTextStyle: {color: '#000000', fontSize: 20, fontFamily: FONT}});
    optY.push({gridIndex: gi, type: 'value', min: P.yr[0], max: P.yr[1], offset: STRIP_W,
      axisLine: {show: false}, splitLine: {show: false},
      axisTick: {show: true, length: 4.5, lineStyle: {color: '#333333', width: 1.1}, customValues: P.ty},
      axisLabel: {customValues: P.ty, color: '#4d4d4d', fontSize: 16, fontFamily: FONT, margin: 8.5}});
    const L = P.lines[f];
    const dash = {type: [7, 5], width: P.lw, color: '#000000'};
    optSeries.push({type: 'scatter', xAxisIndex: gi, yAxisIndex: gi,
      data: expand(P.pts[f]), symbol: 'circle', symbolSize: P.size,
      itemStyle: {color: 'rgba(150,150,150,0.52)', borderColor: 'rgba(25,25,25,0.6)', borderWidth: 1},
      emphasis: {disabled: true}, silent: true, z: 3,
      markLine: {silent: true, symbol: ['none', 'none'], label: {show: false}, animation: false, z: 2,
        data: [
          {yAxis: L[0], lineStyle: {type: 'solid', width: P.lw, color: '#000000'}},
          {yAxis: L[1], lineStyle: dash},
          {yAxis: L[2], lineStyle: dash}
        ]}
    });
    // facet strip
    graphics.push({type: 'rect', shape: {x: PLOT_LEFT - STRIP_W, y: g.top, width: STRIP_W, height: g.height},
      style: {fill: '#d9d9d9'}, silent: true});
    graphics.push({type: 'text', x: PLOT_LEFT - STRIP_W / 2, y: g.top + g.height / 2, rotation: Math.PI / 2,
      style: {text: facetNames[f], font: '20px ' + FONT, fill: '#1a1a1a', align: 'center', verticalAlign: 'middle'}, silent: true});
  }
  const gTop = grids[pi * 2], gBot = grids[pi * 2 + 1];
  graphics.push({type: 'text', x: 11, y: (gTop.top + gBot.top + gBot.height) / 2, rotation: Math.PI / 2,
    style: {text: yTitle, font: '20px ' + FONT, fill: '#000000', align: 'center', verticalAlign: 'middle'}, silent: true});
  graphics.push({type: 'text', x: 61, y: gTop.top - 19,
    style: {text: panelLetters[pi], font: 'bold 19px ' + FONT, fill: '#000000', align: 'left', verticalAlign: 'middle'}, silent: true});
});

const chart = echarts.init(document.getElementById('chart'), null, {renderer: 'canvas'});
chart.setOption({
  animation: false,
  backgroundColor: '#ffffff',
  grid: optGrid,
  xAxis: optX,
  yAxis: optY,
  series: optSeries,
  graphic: graphics
});
</script>
</body>
</html>
